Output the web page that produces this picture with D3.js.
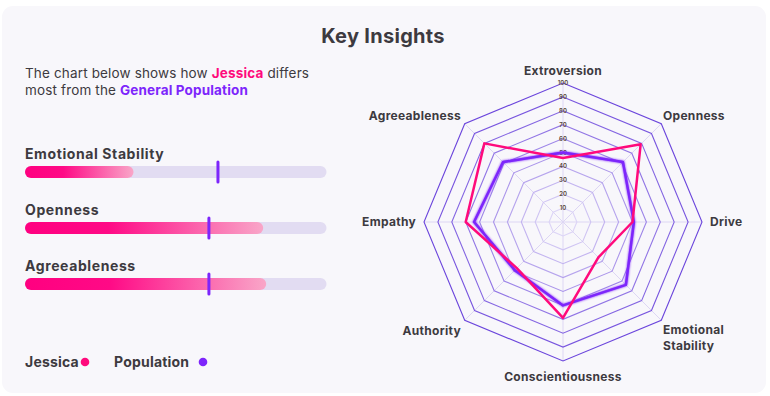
<!DOCTYPE html>
<html>
<head>
<meta charset="utf-8">
<script src="https://cdn.jsdelivr.net/npm/d3@7"></script>
<style>
  html, body { margin: 0; padding: 0; background: #ffffff; }
  svg { display: block; font-family: Inter, "Open Sans", sans-serif; }
</style>
</head>
<body>
<svg id="chart" width="770" height="396"></svg>
<script>
// radar axes, clockwise from the top
const axes = ["Extroversion", "Openness", "Drive", "Emotional Stability", "Conscientiousness", "Authority", "Empathy", "Agreeableness"];
const jessica = [46, 79, 50, 36, 69, 47, 70, 80];
const population = [50, 61, 51, 64, 60, 49, 64, 61];
const ringTicks = [10, 20, 30, 40, 50, 60, 70, 80, 90, 100];

// bars on the left: the traits where Jessica differs most
const barTraits = ["Emotional Stability", "Openness", "Agreeableness"];

const pink = "#ff0a7c";
const purple = "#7d25fb";
const textColor = "#3d3a40";

const svg = d3.select("#chart");

// card
svg.append("rect")
  .attr("x", 2).attr("y", 6)
  .attr("width", 764).attr("height", 387)
  .attr("rx", 11)
  .attr("fill", "#f8f7fb");

svg.append("text")
  .attr("x", 383).attr("y", 43)
  .attr("text-anchor", "middle")
  .attr("font-size", 20).attr("font-weight", 700)
  .attr("letter-spacing", 0.3)
  .attr("fill", textColor)
  .text("Key Insights");

// intro text
const intro = svg.append("text")
  .attr("font-size", 13.5).attr("letter-spacing", 0.15).attr("fill", textColor);
const l1 = intro.append("tspan").attr("x", 25).attr("y", 78);
l1.append("tspan").text("The chart below shows how ");
l1.append("tspan").attr("font-weight", 700).attr("fill", pink).text("Jessica");
l1.append("tspan").text(" differs");
const l2 = intro.append("tspan").attr("x", 25).attr("y", 95);
l2.append("tspan").text("most from the ");
l2.append("tspan").attr("font-weight", 700).attr("fill", purple).text("General Population");

// gradient for Jessica's bar fill
const defs = svg.append("defs");
const grad = defs.append("linearGradient").attr("id", "barGrad");
grad.append("stop").attr("offset", "0%").attr("stop-color", "#ff0080");
grad.append("stop").attr("offset", "35%").attr("stop-color", "#ff0a86");
grad.append("stop").attr("offset", "100%").attr("stop-color", "#f9a6c8");

const glow = defs.append("filter").attr("id", "glow")
  .attr("x", "-20%").attr("y", "-20%").attr("width", "140%").attr("height", "140%");
glow.append("feGaussianBlur").attr("stdDeviation", 1.2).attr("result", "b");
const gm = glow.append("feMerge");
gm.append("feMergeNode").attr("in", "b");
gm.append("feMergeNode").attr("in", "SourceGraphic");

const xBar = d3.scaleLinear().domain([0, 100]).range([25, 326.5]);
const barY = d3.scalePoint().domain(barTraits).range([166, 278]);
const barH = 12;

barTraits.forEach(t => {
  const i = axes.indexOf(t);
  const y = barY(t);
  const g = svg.append("g");
  g.append("text")
    .attr("x", 25).attr("y", y - 7)
    .attr("font-size", 14).attr("font-weight", 700)
    .attr("letter-spacing", 0.6)
    .attr("fill", textColor)
    .text(t);
  g.append("rect")
    .attr("x", xBar(0)).attr("y", y)
    .attr("width", xBar(100) - xBar(0)).attr("height", barH)
    .attr("rx", barH / 2)
    .attr("fill", "#e2dcf2");
  g.append("rect")
    .attr("x", xBar(0)).attr("y", y)
    .attr("width", xBar(jessica[i]) - xBar(0)).attr("height", barH)
    .attr("rx", barH / 2)
    .attr("fill", "url(#barGrad)");
  g.append("line")
    .attr("x1", xBar(population[i])).attr("x2", xBar(population[i]))
    .attr("y1", y - 4).attr("y2", y + barH + 4)
    .attr("stroke", purple).attr("stroke-width", 3)
    .attr("stroke-linecap", "round");
});

// legend
const legend = svg.append("g").attr("font-size", 14).attr("font-weight", 700)
  .attr("letter-spacing", 0.2).attr("fill", textColor);
legend.append("text").attr("x", 25).attr("y", 367).text("Jessica");
legend.append("circle").attr("cx", 85).attr("cy", 362).attr("r", 4.3).attr("fill", pink);
legend.append("text").attr("x", 114).attr("y", 367).text("Population");
legend.append("circle").attr("cx", 203).attr("cy", 362).attr("r", 4.3).attr("fill", purple);

// radar
const cx = 563, cy = 222, R = 139;
const r = d3.scaleLinear().domain([0, 100]).range([0, R]);
const angle = d3.scalePoint().domain(axes).range([0, 2 * Math.PI * (axes.length - 1) / axes.length]);
const ringColor = d3.scaleLinear().domain([10, 100]).range(["#dcd4f6", "#6b45dc"]);

const radar = svg.append("g").attr("transform", `translate(${cx},${cy})`);

// spokes
radar.selectAll(".spoke").data(axes).join("line")
  .attr("x1", 0).attr("y1", 0)
  .attr("x2", d => r(100) * Math.sin(angle(d)))
  .attr("y2", d => -r(100) * Math.cos(angle(d)))
  .attr("stroke", "#ddd6f4").attr("stroke-width", 1);

// rings
const ringLine = d3.lineRadial().angle(d => angle(d.a)).radius(d => r(d.v)).curve(d3.curveLinearClosed);
radar.selectAll(".ring").data(ringTicks).join("path")
  .attr("d", v => ringLine(axes.map(a => ({ a, v }))))
  .attr("fill", "none")
  .attr("stroke", v => ringColor(v))
  .attr("stroke-width", 1.1);

// ring tick labels
radar.selectAll(".tick").data(ringTicks).join("text")
  .attr("x", 0).attr("y", v => -r(v) + 2)
  .attr("text-anchor", "middle")
  .attr("font-size", 6).attr("font-weight", 600)
  .attr("fill", "#5a4a3a")
  .text(v => v);

// series
const seriesLine = d3.lineRadial().angle((d, i) => angle(axes[i])).radius(d => r(d)).curve(d3.curveLinearClosed);
radar.append("path")
  .attr("d", seriesLine(population))
  .attr("fill", "none").attr("stroke", purple).attr("stroke-width", 2.5)
  .attr("stroke-linejoin", "round").attr("filter", "url(#glow)");
radar.append("path")
  .attr("d", seriesLine(jessica))
  .attr("fill", "none").attr("stroke", pink).attr("stroke-width", 2.5)
  .attr("stroke-linejoin", "round");

// axis labels
const labelPos = {
  "Extroversion": { dx: 0, dy: -147, anchor: "middle" },
  "Openness": { dx: 100, dy: -102, anchor: "start" },
  "Drive": { dx: 147, dy: 4, anchor: "start" },
  "Emotional Stability": { dx: 100, dy: 112, anchor: "start" },
  "Conscientiousness": { dx: 0, dy: 159, anchor: "middle" },
  "Authority": { dx: -102, dy: 113, anchor: "end" },
  "Empathy": { dx: -147, dy: 4, anchor: "end" },
  "Agreeableness": { dx: -102, dy: -102, anchor: "end" }
};
axes.forEach(a => {
  const p = labelPos[a];
  const t = radar.append("text")
    .attr("text-anchor", p.anchor)
    .attr("font-size", 12).attr("font-weight", 700)
    .attr("letter-spacing", 0.3)
    .attr("fill", textColor);
  a.split(" ").forEach((w, k) => {
    t.append("tspan").attr("x", p.dx).attr("y", p.dy + k * 16).text(w);
  });
});
</script>
</body>
</html>
